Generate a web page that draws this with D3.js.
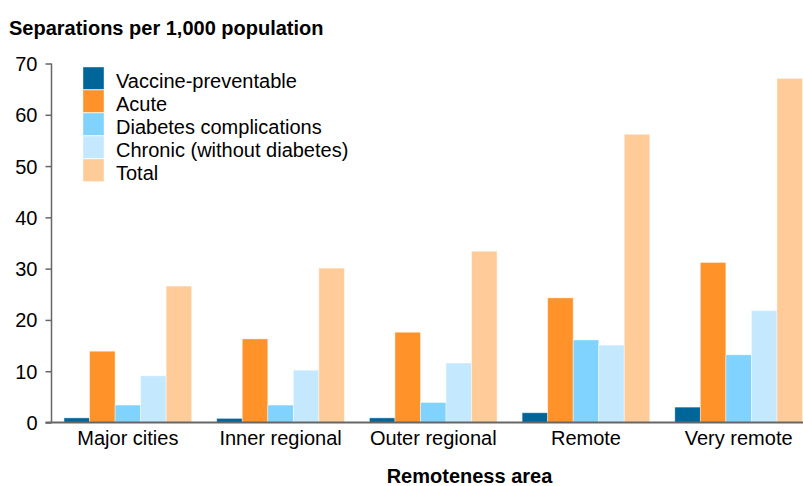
<!DOCTYPE html>
<html>
<head>
<meta charset="utf-8">
<script src="https://cdn.jsdelivr.net/npm/d3@7"></script>
<style>
  body { margin: 0; background: #fff; }
  svg { display: block; }
  text { font-family: "Liberation Sans", Arial, sans-serif; fill: #000; }
</style>
</head>
<body>
<svg id="chart" width="803" height="486"></svg>
<script>
const categories = ["Major cities", "Inner regional", "Outer regional", "Remote", "Very remote"];
const seriesNames = ["Vaccine-preventable", "Acute", "Diabetes complications", "Chronic (without diabetes)", "Total"];
const vaccine = [0.9, 0.8, 0.9, 1.9, 3.0];
const acute = [13.9, 16.3, 17.6, 24.3, 31.2];
const diabetes = [3.4, 3.4, 3.9, 16.1, 13.2];
const chronic = [9.1, 10.2, 11.6, 15.1, 21.8];
const total = [26.6, 30.1, 33.4, 56.2, 67.1];
const yTicks = [0, 10, 20, 30, 40, 50, 60, 70];
const colors = ["#00669A", "#FF9329", "#80D3FF", "#C4E9FF", "#FFCC99"];

const seriesValues = [vaccine, acute, diabetes, chronic, total];
const rows = categories.map((c, i) => ({
  cat: c,
  vals: seriesNames.map((s, j) => ({ key: s, idx: j, value: seriesValues[j][i] }))
}));

const svg = d3.select("#chart");
const x0 = 51.5, yBase = 422.5, yTop = 63.5;
const FS = 20;

const x = d3.scaleBand().domain(categories).range([x0, 815]).paddingInner(0.164).paddingOuter(0.082);
const xs = d3.scaleBand().domain(seriesNames).range([0, x.bandwidth()]);
const y = d3.scaleLinear().domain([0, 70]).range([yBase, yTop]);

// Bars
const g = svg.append("g");
g.selectAll("g.grp").data(rows).join("g")
  .attr("class", "grp")
  .attr("transform", d => `translate(${x(d.cat)},0)`)
  .selectAll("rect").data(d => d.vals).join("rect")
  .attr("x", d => xs(d.key))
  .attr("width", xs.bandwidth())
  .attr("y", d => y(d.value))
  .attr("height", d => yBase - y(d.value))
  .attr("fill", d => colors[d.idx])
  .attr("stroke", "rgba(255,255,255,0.5)")
  .attr("stroke-width", 0.8);

// Y axis
const yAxis = d3.axisLeft(y).tickValues(yTicks).tickSize(6).tickPadding(8);
const ya = svg.append("g").attr("transform", `translate(${x0},0)`).call(yAxis);
ya.select(".domain").attr("stroke", "#666").attr("stroke-width", 1.5).attr("d", `M0,${yTop}V${yBase}`);
ya.selectAll(".tick line").attr("stroke", "#666").attr("stroke-width", 1.5);
ya.selectAll(".tick text").attr("font-size", FS).attr("font-family", "Liberation Sans, Arial, sans-serif").attr("fill", "#000").attr("dy", "0.35em");

// X axis
const xAxis = d3.axisBottom(x).tickSize(0).tickPadding(8);
const xa = svg.append("g").attr("transform", `translate(0,${yBase})`).call(xAxis);
xa.select(".domain").attr("stroke", "#666").attr("stroke-width", 2).attr("d", `M${x0 - 6},0H803`);
xa.selectAll(".tick text").attr("font-size", FS).attr("font-family", "Liberation Sans, Arial, sans-serif").attr("fill", "#000");

// Titles
svg.append("text").attr("x", 9).attr("y", 35).attr("font-size", FS).attr("font-weight", "bold")
  .text("Separations per 1,000 population");
svg.append("text").attr("x", 469.5).attr("y", 483).attr("text-anchor", "middle").attr("font-size", FS).attr("font-weight", "bold")
  .text("Remoteness area");

// Legend
const lg = svg.append("g").attr("transform", "translate(83,67)");
const li = lg.selectAll("g").data(seriesNames).join("g")
  .attr("transform", (d, i) => `translate(0,${i * 23})`);
li.append("rect").attr("width", 21).attr("height", 22.5).attr("fill", (d, i) => colors[i])
  .attr("stroke", "rgba(255,255,255,0.5)").attr("stroke-width", 0.8);
li.append("text").attr("x", 33).attr("y", 21).attr("font-size", FS).text(d => d);
</script>
</body>
</html>
